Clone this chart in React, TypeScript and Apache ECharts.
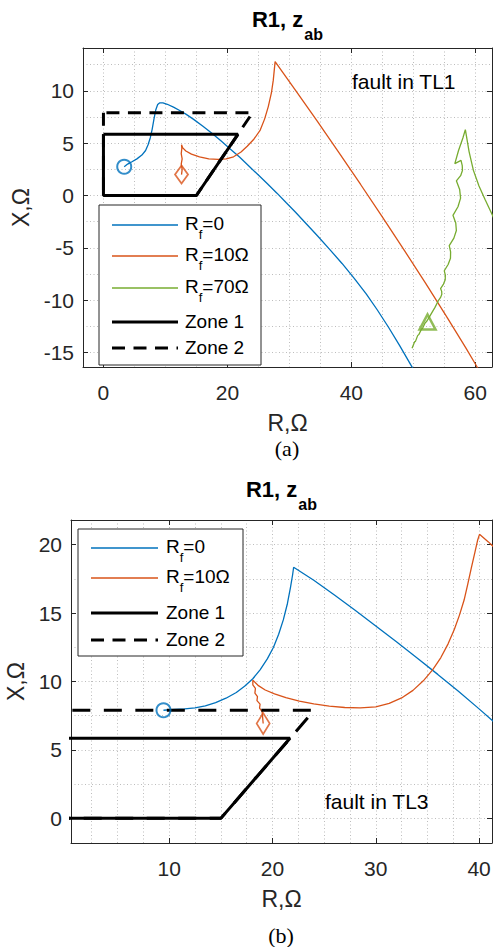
import React, { useEffect, useRef } from 'react';
import * as echarts from 'echarts';

// ---------------- data ----------------
// panel (a): fault in TL1
const rTicksA = [0, 20, 40, 60];
const xTicksA = [-15, -10, -5, 0, 5, 10];
// panel (b): fault in TL3
const rTicksB = [10, 20, 30, 40];
const xTicksB = [0, 5, 10, 15, 20];

const legendNamesA = ['R_f=0', 'R_f=10Ω', 'R_f=70Ω', 'Zone 1', 'Zone 2'];
const legendNamesB = ['R_f=0', 'R_f=10Ω', 'Zone 1', 'Zone 2'];

// relay zones (R, X)
const zone1 = [[0, 5.85], [0, 0], [15, 0], [21.7, 5.85], [0, 5.85]];
const zone2 = [[0, 7.9], [0, 0], [15, 0], [24.05, 7.9], [0, 7.9]];

// (a) impedance trajectories
const rf0A = [
  [3.35, 2.75], [3.9, 3.0], [4.6, 3.22], [5.4, 3.5], [6.2, 3.86], [6.8, 4.3], [7.2, 4.85], [7.55, 5.5],
  [7.85, 6.3], [8.15, 7.3], [8.45, 8.2], [8.75, 8.7], [9.05, 8.85], [9.6, 8.85], [10.3, 8.72], [11.3, 8.45],
  [12.3, 8.12], [13.3, 7.78], [14.5, 7.3], [16.0, 6.65], [17.5, 5.95], [19.0, 5.2], [20.5, 4.42], [22.0, 3.65],
  [23.5, 2.8], [25.0, 1.95], [26.5, 1.1], [28.0, 0.22], [29.5, -0.7], [31.0, -1.6], [32.8, -2.75], [34.6, -3.9],
  [36.5, -5.15], [38.5, -6.5], [40.5, -7.95], [42.4, -9.4], [44.2, -10.95], [46.0, -12.6], [47.8, -14.35],
  [49.6, -16.2], [50.3, -16.9],
];
const rf10A = [
  [12.6, 2.0], [12.7, 2.5], [12.55, 3.0], [12.7, 3.5], [12.55, 4.0], [12.65, 4.5], [12.6, 4.85], [12.8, 4.55],
  [13.3, 4.25], [14.2, 3.95], [15.5, 3.7], [17.0, 3.5], [18.5, 3.45], [19.8, 3.5], [21.0, 3.7], [22.2, 4.15],
  [23.2, 4.7], [24.3, 5.4], [25.3, 6.25], [26.0, 7.3], [26.6, 8.5], [27.1, 9.8], [27.4, 11.0], [27.7, 12.8],
  [31.0, 10.05], [34.5, 7.1], [38.0, 4.1], [41.5, 1.05], [45.0, -2.05], [48.5, -5.2], [52.0, -8.4],
  [55.5, -11.7], [58.5, -14.6], [60.3, -16.4], [61.0, -17.1],
];
const rf70A = [
  [49.8, -14.6], [50.2, -14.0], [50.35, -13.95], [50.7, -13.4], [50.9, -13.3], [51.3, -12.8], [51.5, -12.7],
  [51.9, -12.2], [52.2, -12.0], [52.6, -11.6], [53.0, -11.2], [53.5, -10.7], [54.1, -10.0],
  [54.43, -9.72], [54.6, -9.45], [54.58, -9.17], [54.4, -8.9],
  [54.87, -8.47], [55.15, -8.05], [55.17, -7.62], [55.0, -7.2],
  [55.62, -6.6], [56.0, -6.0], [56.02, -5.4], [55.8, -4.8],
  [56.55, -4.08], [56.95, -3.35], [56.85, -2.63], [56.4, -1.9],
  [57.21, -1.08], [57.63, -0.25], [57.48, 0.58], [56.95, 1.4],
  [57.64, 1.89], [57.93, 2.38], [57.9, 2.86], [57.7, 3.35], [56.7, 3.05],
  [57.3, 4.3], [58.0, 5.5], [58.4, 6.3],
  [59.0, 4.2], [59.7, 2.4], [60.6, 0.9], [61.6, -0.4], [62.7, -1.8], [63.5, -2.8],
];
const rf0StartA = [[3.35, 2.75]];
const rf10StartA = [[12.6, 2.0]];
const rf70MarkA = [[52.3, -12.1]];

// (b) impedance trajectories
const rf0B = [
  [9.45, 7.9], [10.5, 7.97], [11.5, 8.0], [12.5, 8.08], [13.5, 8.22], [14.5, 8.45], [15.5, 8.78], [16.5, 9.2],
  [17.3, 9.65], [18.1, 10.2], [18.8, 10.85], [19.5, 11.65], [20.1, 12.5], [20.6, 13.45], [21.05, 14.5],
  [21.45, 15.7], [21.75, 16.9], [21.95, 17.8], [22.05, 18.35], [24.0, 17.4], [26.0, 16.32], [28.0, 15.2],
  [30.0, 14.06], [32.0, 12.9], [34.0, 11.72], [36.0, 10.52], [38.0, 9.28], [40.0, 8.0], [41.2, 7.2], [42.0, 6.66],
];
const rf10B = [
  [19.1, 6.93], [19.0, 7.8], [18.75, 8.05], [18.8, 8.35], [18.5, 8.6], [18.55, 8.9], [18.3, 9.15], [18.35, 9.5],
  [18.1, 9.75], [18.1, 10.1], [18.6, 9.72], [19.3, 9.38], [20.2, 9.1], [21.3, 8.82], [22.6, 8.57], [24.0, 8.37],
  [25.5, 8.2], [27.0, 8.1], [28.5, 8.07], [30.0, 8.15], [31.3, 8.4], [32.5, 8.8], [33.6, 9.35], [34.6, 10.05],
  [35.5, 10.85], [36.3, 11.75], [37.0, 12.75], [37.6, 13.8], [38.1, 14.85], [38.55, 15.95], [38.9, 17.1],
  [39.25, 18.3], [39.6, 19.45], [39.85, 20.3], [40.04, 20.75], [40.9, 20.2], [41.6, 19.7],
];
const rf0StartB = [[9.45, 7.9]];
const rf10StartB = [[19.1, 6.93]];

// ---------------- styles ----------------
const FONT = '"Liberation Sans", Arial, Helvetica, sans-serif';
const SERIF = '"Liberation Serif", "Times New Roman", serif';
const AXC = '#262626';
const GRIDC = '#bdbdbd';
const BLUE = '#0072BD';
const ORANGE = '#D95319';
const GREEN = '#77AC30';

const STYLE: Record<string, { color: string; width: number; dash?: number[] }> = {
  'R_f=0': { color: BLUE, width: 1.3 },
  'R_f=10Ω': { color: ORANGE, width: 1.3 },
  'R_f=70Ω': { color: GREEN, width: 1.3 },
  'Zone 1': { color: '#000', width: 3 },
  'Zone 2': { color: '#000', width: 3, dash: [13, 8.5] },
};

const fmt = (ticks: number[]) => (v: number) =>
  ticks.some((t) => Math.abs(t - v) < 1e-6) ? String(Math.round(v)) : '';

const gridLine = { show: true, lineStyle: { color: GRIDC, width: 1, type: [1, 2.5] } };

function mainAxis(kind: 'x' | 'y', gi: number, min: number, max: number, iv: number, minorN: number,
  ticks: number[], name: string, nameGap: number, margin: number) {
  return {
    type: 'value', gridIndex: gi, position: kind === 'x' ? 'bottom' : 'left', min, max,
    minInterval: iv, maxInterval: iv, splitNumber: Math.max(1, Math.round((max - min) / iv)),
    axisLine: { show: true, onZero: false, lineStyle: { color: AXC, width: 1 } },
    axisTick: { show: true, inside: true, length: 5, lineStyle: { color: AXC, width: 1 } },
    axisLabel: { show: true, margin, fontSize: 21, fontFamily: FONT, color: AXC, formatter: fmt(ticks) },
    splitLine: gridLine,
    minorTick: { show: false, splitNumber: minorN },
    minorSplitLine: gridLine,
    name, nameLocation: 'middle', nameGap,
    nameTextStyle: { fontSize: 23, fontFamily: FONT, color: AXC },
  };
}
function sideAxis(kind: 'x' | 'y', gi: number, min: number, max: number, iv: number) {
  return {
    type: 'value', gridIndex: gi, position: kind === 'x' ? 'top' : 'right', min, max,
    minInterval: iv, maxInterval: iv, splitNumber: Math.max(1, Math.round((max - min) / iv)),
    axisLine: { show: true, onZero: false, lineStyle: { color: AXC, width: 1 } },
    axisTick: { show: true, inside: true, length: 5, lineStyle: { color: AXC, width: 1 } },
    axisLabel: { show: false },
    splitLine: { show: false },
    minorSplitLine: { show: false },
  };
}

function lineS(name: string, data: number[][], xi: number, yi: number, dash?: number[], z = 2) {
  const st = STYLE[name];
  return {
    type: 'line', name, data, xAxisIndex: xi, yAxisIndex: yi, symbol: 'none', showSymbol: false,
    clip: true, silent: true, z,
    lineStyle: { color: st.color, width: st.width, type: dash || st.dash || 'solid', cap: 'butt' },
    itemStyle: { color: st.color },
    emphasis: { disabled: true },
  };
}
function markS(data: number[][], xi: number, yi: number, symbol: string, size: number | number[],
  color: string, bw: number) {
  return {
    type: 'scatter', data, xAxisIndex: xi, yAxisIndex: yi, symbol, symbolSize: size, silent: true, z: 4,
    itemStyle: { color: 'rgba(0,0,0,0)', borderColor: color, borderWidth: bw },
    emphasis: { disabled: true },
  };
}

const richName = (n: string) =>
  n.startsWith('R_f') ? `{m|R}{s|f}{m|${n.slice(3)}}` : `{m|${n}}`;

const legRich = {
  m: { fontSize: 19, fontFamily: FONT, fill: '#000', verticalAlign: 'top' },
  s: { fontSize: 13, fontFamily: FONT, fill: '#000', verticalAlign: 'top', padding: [14, 0, 0, 0] },
};
const titleRich = {
  m: { fontSize: 22, fontWeight: 'bold', fontFamily: FONT, fill: '#000', verticalAlign: 'top' },
  s: { fontSize: 16, fontWeight: 'bold', fontFamily: FONT, fill: '#000', verticalAlign: 'top', padding: [18, 0, 0, 1] },
};

type LegLayout = { box: number[]; line: number[]; textX: number; rowsY: number[] };
const LEG_A: LegLayout = { box: [99, 205, 162, 160], line: [112, 178], textX: 185, rowsY: [225, 256, 288, 322, 348] };
const LEG_B: LegLayout = { box: [78, 529, 165, 127], line: [91, 158], textX: 166, rowsY: [548, 578, 613, 640] };

function legendGraphic(names: string[], L: LegLayout) {
  const els: any[] = [];
  els.push({
    type: 'rect', z: 100, shape: { x: L.box[0], y: L.box[1], width: L.box[2], height: L.box[3] },
    style: { fill: '#fff', stroke: AXC, lineWidth: 1 },
  });
  names.forEach((n, i) => {
    const st = STYLE[n];
    const y = L.rowsY[i];
    els.push({
      type: 'line', z: 101, shape: { x1: L.line[0], y1: y, x2: L.line[1], y2: y },
      style: { stroke: st.color, lineWidth: st.width, lineDash: st.dash || null, lineCap: 'butt' },
    });
    const mid = y + (n.startsWith('R_f') ? -2 : -0.3);
    els.push({
      type: 'text', z: 101, x: L.textX, y: mid - 9.5,
      style: {
        text: richName(n), rich: legRich, fontSize: 19, fontFamily: FONT, fill: '#000',
        align: 'left', verticalAlign: 'top', textAlign: 'left', textVerticalAlign: 'top',
      },
    });
  });
  return els;
}

function textEl(text: string, x: number, y: number, font: string, size: number, align: string) {
  return {
    type: 'text', z: 100, x, y,
    style: {
      text, fontSize: size, fontFamily: font, fill: '#000', align, verticalAlign: 'middle',
      textAlign: align, textVerticalAlign: 'middle',
    },
  };
}
function titleEl(x: number, top: number) {
  return {
    type: 'text', z: 100, x, y: top,
    style: {
      text: '{m|R1, z}{s|ab}', rich: titleRich, fontSize: 22, fontWeight: 'bold', fontFamily: FONT, fill: '#000',
      align: 'center', verticalAlign: 'top', textAlign: 'center', textVerticalAlign: 'top',
    },
  };
}

const option: any = {
  animation: false,
  backgroundColor: '#fff',
  grid: [
    { left: 83, top: 48, width: 409, height: 319, containLabel: false, outerBoundsMode: 'none' },
    { left: 71, top: 520, width: 421, height: 323, containLabel: false, outerBoundsMode: 'none' },
  ],
  xAxis: [
    mainAxis('x', 0, -3.3, 62.7, 20, 4, rTicksA, 'R,Ω', 44, 15),
    sideAxis('x', 0, -3.3, 62.7, 20),
    mainAxis('x', 1, 0.5, 41.25, 10, 4, rTicksB, 'R,Ω', 44, 15),
    sideAxis('x', 1, 0.5, 41.25, 10),
  ],
  yAxis: [
    mainAxis('y', 0, -16.4, 14.1, 5, 2, xTicksA, 'X,Ω', 47, 9),
    sideAxis('y', 0, -16.4, 14.1, 5),
    mainAxis('y', 1, -1.8, 21.8, 5, 2, xTicksB, 'X,Ω', 32, 9),
    sideAxis('y', 1, -1.8, 21.8, 5),
  ],
  series: [
    lineS('R_f=0', rf0A, 0, 0),
    lineS('R_f=10Ω', rf10A, 0, 0),
    lineS('R_f=70Ω', rf70A, 0, 0),
    lineS('Zone 1', zone1, 0, 0, undefined, 3),
    lineS('Zone 2', zone2, 0, 0, [13, 8.5], 3),
    markS(rf0StartA, 0, 0, 'circle', 14, BLUE, 2),
    markS(rf10StartA, 0, 0, 'diamond', [13, 18], ORANGE, 1.8),
    markS(rf70MarkA, 0, 0, 'triangle', [16, 15], GREEN, 2.5),

    lineS('R_f=0', rf0B, 2, 2),
    lineS('R_f=10Ω', rf10B, 2, 2),
    lineS('Zone 1', zone1, 2, 2, undefined, 3),
    lineS('Zone 2', zone2, 2, 2, [18, 13.5], 3),
    markS(rf0StartB, 2, 2, 'circle', 14, BLUE, 2),
    markS(rf10StartB, 2, 2, 'diamond', [13, 21], ORANGE, 1.8),
  ],
  graphic: [
    titleEl(287.5, 8),
    titleEl(281.5, 478),
    textEl('fault in TL1', 352, 81, FONT, 21, 'left'),
    textEl('fault in TL3', 325, 801, FONT, 21, 'left'),
    textEl('(a)', 287, 448, SERIF, 22, 'center'),
    textEl('(b)', 281, 935, SERIF, 22, 'center'),
    ...legendGraphic(legendNamesA, LEG_A),
    ...legendGraphic(legendNamesB, LEG_B),
  ],
};

export default function App() {
  const ref = useRef<HTMLDivElement>(null);
  useEffect(() => {
    if (!ref.current) return;
    const chart = echarts.init(ref.current, undefined, { renderer: 'svg', width: 493, height: 947 });
    chart.setOption(option);
    return () => chart.dispose();
  }, []);
  return (
    <div
      ref={ref}
      style={{ position: 'absolute', left: 0, top: 0, width: 493, height: 947, background: '#fff' }}
    />
  );
}
